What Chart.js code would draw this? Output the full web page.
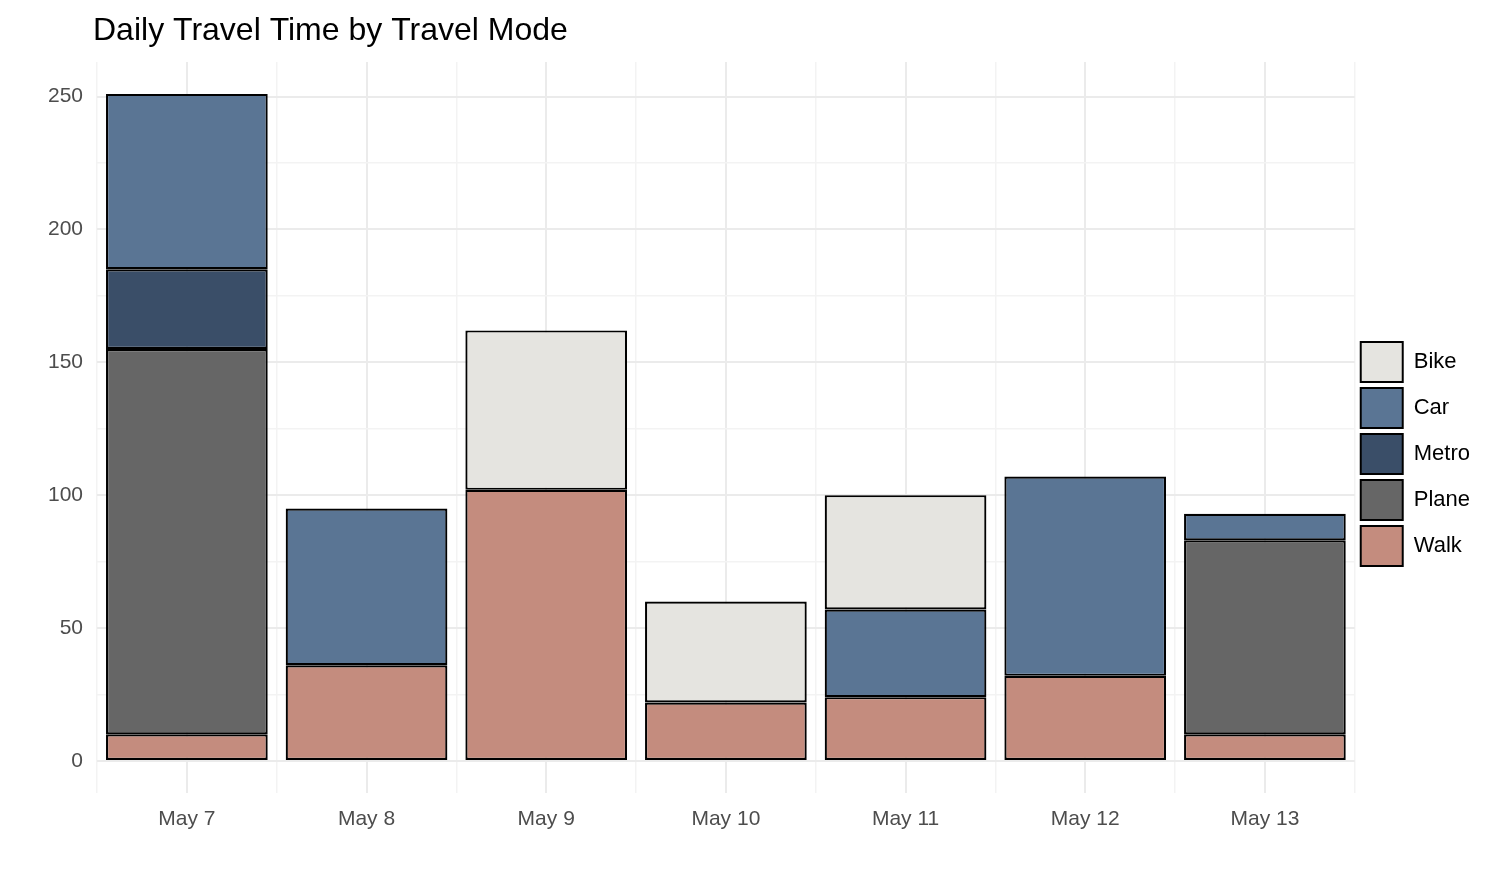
<!DOCTYPE html>
<html>
<head>
<meta charset="utf-8">
<script src="https://cdn.jsdelivr.net/npm/chart.js@4"></script>
<style>
  html, body { margin: 0; background: #fff; }
  #wrap { width: 1506px; height: 882px; }
</style>
</head>
<body>
<div id="wrap"><canvas id="chart"></canvas></div>
<script>
"use strict";

// ── data ──────────────────────────────────────────────────────────────────────
const days  = ["May 7", "May 8", "May 9", "May 10", "May 11", "May 12", "May 13"];
const walk  = [10, 36, 102, 22, 24, 32, 10];
const plane = [145, 0, 0, 0, 0, 0, 73];
const metro = [30, 0, 0, 0, 0, 0, 0];
const car   = [66, 59, 0, 0, 33, 75, 10];
const bike  = [0, 0, 60, 38, 43, 0, 0];
const yTicks = [0, 25, 50, 75, 100, 125, 150, 175, 200, 225, 250];
const TITLE = "Daily Travel Time by Travel Mode";

const TICK = { color: "#4d4d4d", font: { family: "Liberation Sans", size: 21 } };

function ds(label, data, color) {
  return {
    label, data: data.map(v => (v === 0 ? null : v)),
    backgroundColor: color, borderColor: "#000", borderWidth: 2.2,
    borderSkipped: false, barPercentage: 0.9, categoryPercentage: 1,
    xAxisID: "x",
  };
}

// title drawn at a fixed left offset, like the reference
const titlePlugin = {
  id: "leftTitle",
  afterDraw(chart) {
    const ctx = chart.ctx;
    ctx.save();
    ctx.fillStyle = "#000";
    ctx.font = "32px 'Liberation Sans'";
    ctx.textBaseline = "alphabetic";
    ctx.fillText(TITLE, 93, 40);
    ctx.restore();
  },
};

new Chart(document.getElementById("chart"), {
  type: "bar",
  data: {
    labels: days,
    // stacked bottom -> top
    datasets: [
      ds("Walk", walk, "#c48c7e"),
      ds("Plane", plane, "#666666"),
      ds("Metro", metro, "#3a4e68"),
      ds("Car", car, "#5a7594"),
      ds("Bike", bike, "#e5e4e0"),
    ],
  },
  options: {
    responsive: true,
    maintainAspectRatio: false,
    animation: false,
    layout: { padding: { left: 34, right: 26, top: 62, bottom: 36 } },
    plugins: {
      legend: {
        position: "right",
        reverse: true,
        labels: {
          color: "#000", font: { family: "Liberation Sans", size: 22 },
          boxWidth: 42, boxHeight: 40, padding: 6,
          generateLabels(chart) {
            return chart.data.datasets.map((d, i) => ({
              text: d.label, fillStyle: d.backgroundColor, strokeStyle: "#000",
              lineWidth: 2, datasetIndex: i, fontColor: "#000",
            }));
          },
        },
      },
      tooltip: { enabled: false },
    },
    scales: {
      x: {
        stacked: true,
        ticks: { ...TICK, padding: 14 },
        grid: { offset: false, color: "#ebebeb", lineWidth: 2, drawTicks: false },
        border: { display: false },
      },
      x2: {
        type: "category", labels: days, position: "bottom", offset: true,
        ticks: { display: false },
        grid: { offset: true, color: "#f3f3f3", lineWidth: 1.5, drawTicks: false },
        border: { display: false },
      },
      y: {
        stacked: true, min: -12, max: 263,
        afterBuildTicks(scale) { scale.ticks = yTicks.map(v => ({ value: v })); },
        ticks: {
          ...TICK, padding: 14,
          callback: v => (v % 50 === 0 ? v : ""),
        },
        grid: {
          color: c => (c.tick && c.tick.value % 50 === 0 ? "#ebebeb" : "#f3f3f3"),
          lineWidth: c => (c.tick && c.tick.value % 50 === 0 ? 2 : 1.5),
          drawTicks: false,
        },
        border: { display: false },
      },
    },
  },
  plugins: [titlePlugin],
});
</script>
</body>
</html>
